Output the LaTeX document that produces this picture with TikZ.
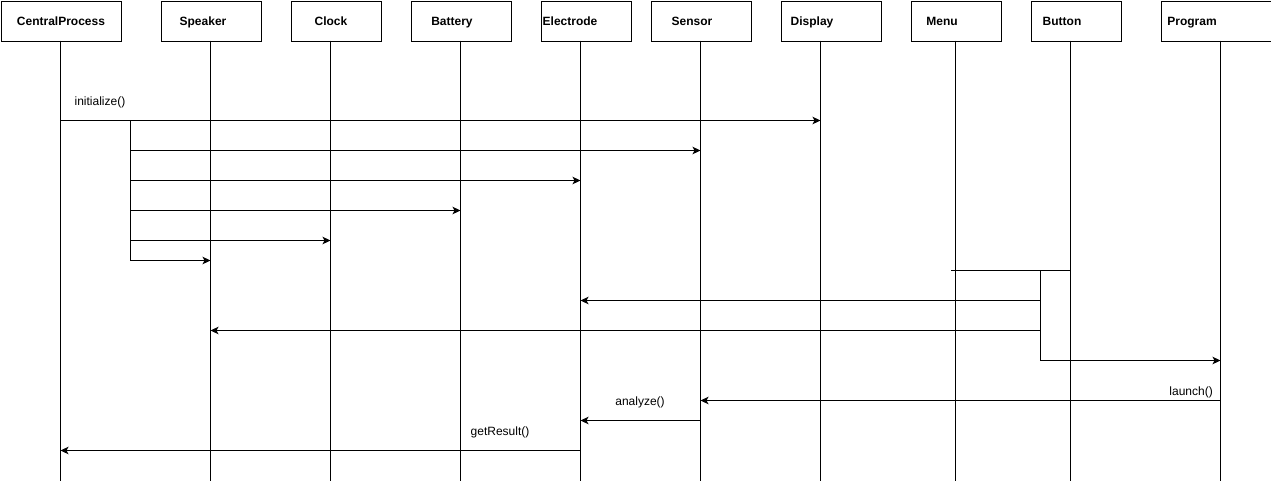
\documentclass[tikz,border=0pt]{standalone}
\usepackage{fontspec}
\setmainfont{Liberation Sans}
\usetikzlibrary{arrows.meta}

\begin{document}
\begin{tikzpicture}[
    x=1pt, y=-1pt,
    box/.style={
        draw,
        line width=1pt,
        minimum height=40pt,
        inner sep=0pt,
        anchor=north west
    },
    title/.style={
        font=\fontsize{12}{14}\selectfont\bfseries,
        text height=8.6pt,
        text depth=0pt
    },
    life/.style={
        line width=1pt
    },
    msg/.style={
        -{Stealth[length=8pt,width=7.5pt,inset=2pt]},
        line width=1pt
    },
    call/.style={
        font=\fontsize{12}{14}\selectfont,
        inner sep=0pt
    }
]
    \useasboundingbox (0,0) rectangle (1271,482);

    % Participants
    \node[box, minimum width=120pt, label={[title]center:CentralProcess}] (cp) at (0.5,0.5) {};
    \node[box, minimum width=100pt, label={[title, xshift=-8pt]center:Speaker}] (speaker) at (160.5,0.5) {};
    \node[box, minimum width=90pt, label={[title, xshift=-5pt]center:Clock}] (clock) at (290.5,0.5) {};
    \node[box, minimum width=100pt, label={[title, xshift=-9pt]center:Battery}] (battery) at (410.5,0.5) {};
    \node[box, minimum width=90pt, label={[title, xshift=-16pt]center:Electrode}] (electrode) at (540.5,0.5) {};
    \node[box, minimum width=100pt, label={[title, xshift=-9pt]center:Sensor}] (sensor) at (650.5,0.5) {};
    \node[box, minimum width=100pt, label={[title, xshift=-19pt]center:Display}] (display) at (780.5,0.5) {};
    \node[box, minimum width=90pt, label={[title, xshift=-14pt]center:Menu}] (menu) at (910.5,0.5) {};
    \node[box, minimum width=90pt, label={[title, xshift=-14pt]center:Button}] (button) at (1030.5,0.5) {};
    \node[box, minimum width=110pt, label={[title, xshift=-24pt]center:Program}] (program) at (1160.5,0.5) {};

    % Lifelines
    \coordinate (cpL) at (60.5,40.5);
    \coordinate (speakerL) at (210.5,40.5);
    \coordinate (clockL) at (330.5,40.5);
    \coordinate (batteryL) at (460.5,40.5);
    \coordinate (electrodeL) at (580.5,40.5);
    \coordinate (sensorL) at (700.5,40.5);
    \coordinate (displayL) at (820.5,40.5);
    \coordinate (menuL) at (955.5,40.5);
    \coordinate (buttonL) at (1070.5,40.5);
    \coordinate (programL) at (1220.5,40.5);
    \coordinate (bottom) at (0,480.5);
    \foreach \p in {cp,speaker,clock,battery,electrode,sensor,display,menu,button,program}
        \draw[life] (\p L) -- (\p L |- bottom);

    % Message rows
    \coordinate (r1) at (0,120.5);
    \coordinate (r2) at (0,150.5);
    \coordinate (r3) at (0,180.5);
    \coordinate (r4) at (0,210.5);
    \coordinate (r5) at (0,240.5);
    \coordinate (r6) at (0,260.5);
    \coordinate (r7) at (0,270.5);
    \coordinate (r8) at (0,300.5);
    \coordinate (r9) at (0,330.5);
    \coordinate (r10) at (0,360.5);
    \coordinate (r11) at (0,400.5);
    \coordinate (r12) at (0,420.5);
    \coordinate (r13) at (0,450.5);

    % Initialisation
    \draw[msg] (cpL |- r1) -- (displayL |- r1);
    \node[call] (init) at (100,102) {initialize()};
    \coordinate (fork1) at (130.5,120.5);
    \draw[life] (fork1) -- (fork1 |- r6);
    \draw[msg] (fork1 |- r2) -- (sensorL |- r2);
    \draw[msg] (fork1 |- r3) -- (electrodeL |- r3);
    \draw[msg] (fork1 |- r4) -- (batteryL |- r4);
    \draw[msg] (fork1 |- r5) -- (clockL |- r5);
    \draw[msg] (fork1 |- r6) -- (speakerL |- r6);

    % Button press
    \draw[life] ([xshift=-4.5pt]menuL |- r7) -- (buttonL |- r7);
    \coordinate (fork2) at (1040.5,270.5);
    \draw[life] (fork2) -- (fork2 |- r10);
    \draw[msg] (fork2 |- r8) -- (electrodeL |- r8);
    \draw[msg] (fork2 |- r9) -- (speakerL |- r9);
    \draw[msg] (fork2 |- r10) -- (programL |- r10);

    % Measurement
    \draw[msg] (programL |- r11) -- (sensorL |- r11);
    \node[call, anchor=east] (launch) at (1213,392) {launch()};
    \draw[msg] (sensorL |- r12) -- (electrodeL |- r12);
    \node[call] (analyze) at (640,402) {analyze()};
    \draw[msg] (electrodeL |- r13) -- (cpL |- r13);
    \node[call] (result) at (500,432) {getResult()};
\end{tikzpicture}
\end{document}
